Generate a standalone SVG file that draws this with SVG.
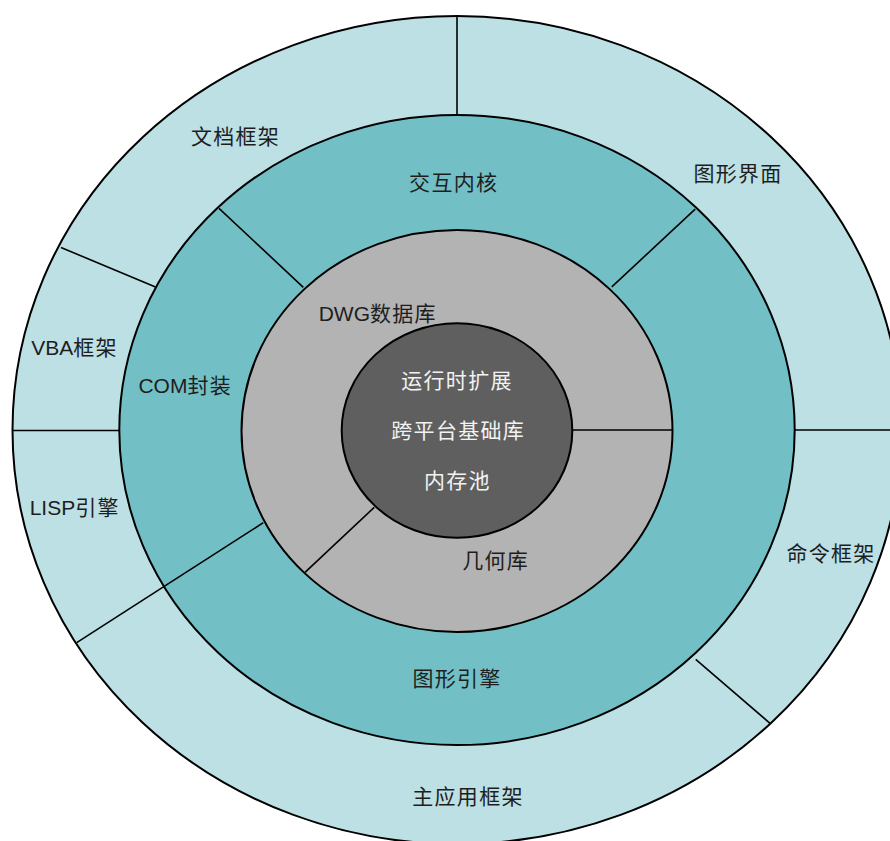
<svg xmlns="http://www.w3.org/2000/svg" width="890" height="841" viewBox="0 0 890 841">
  <style>
    .ring { stroke: #000; stroke-width: 2; }
    .div { stroke: #000; stroke-width: 1.6; fill: none; }
    .lbl { font-family: "Liberation Sans", "Noto Sans CJK SC", sans-serif; font-size: 21px; letter-spacing: 1.3px; text-anchor: middle; fill: #1e1e1e; }
    .lbl.w { fill: #f2f2f2; }
    .lat { letter-spacing: 0px; }
  </style>
  <rect width="890" height="841" fill="#ffffff"/>
  <g id="rings">
    <ellipse id="ring-outer" class="ring" cx="457" cy="430" rx="444.5" ry="414" fill="#bce0e3"/>
    <ellipse id="ring-teal" class="ring" cx="457" cy="430" rx="337.7" ry="315" fill="#72bfc6"/>
    <ellipse id="ring-gray" class="ring" cx="457" cy="431" rx="215.5" ry="201" fill="#b3b3b3"/>
    <ellipse id="ring-core" class="ring" cx="457" cy="430.5" rx="115.3" ry="107.3" fill="#5f5f5f"/>
  </g>
  <g id="connectors">
    <line class="div" x1="457" y1="16" x2="457" y2="115"/>
    <line class="div" x1="61" y1="247.5" x2="155.5" y2="287"/>
    <line class="div" x1="12.5" y1="430.5" x2="119.5" y2="430.5"/>
    <line class="div" x1="76.7" y1="642.7" x2="163.8" y2="586.7"/>
    <line class="div" x1="795" y1="430" x2="890" y2="430"/>
    <line class="div" x1="695.7" y1="659.3" x2="770" y2="723.3"/>
    <line class="div" x1="219" y1="208.3" x2="303.3" y2="287.3"/>
    <line class="div" x1="695.2" y1="209.1" x2="611.8" y2="286.9"/>
    <line class="div" x1="163.8" y1="586.7" x2="263.3" y2="522.7"/>
    <line class="div" x1="572.3" y1="430" x2="672.5" y2="430"/>
    <line class="div" x1="305" y1="572.3" x2="374.3" y2="507.3"/>
  </g>
  <g id="node-wendang"><text class="lbl" x="235.5" y="144">文档框架</text></g>
  <g id="node-tuxingjiemian"><text class="lbl" x="738" y="181">图形界面</text></g>
  <g id="node-vba"><text class="lbl" x="74.5" y="355"><tspan class="lat">VBA</tspan>框架</text></g>
  <g id="node-lisp"><text class="lbl" x="74.7" y="515"><tspan class="lat">LISP</tspan>引擎</text></g>
  <g id="node-mingling"><text class="lbl" x="831" y="560.5">命令框架</text></g>
  <g id="node-zhuyingyong"><text class="lbl" x="468" y="804">主应用框架</text></g>
  <g id="node-jiaohu"><text class="lbl" x="453.7" y="190">交互内核</text></g>
  <g id="node-com"><text class="lbl" x="185.2" y="393"><tspan class="lat">COM</tspan>封装</text></g>
  <g id="node-tuxingyinqing"><text class="lbl" x="457" y="685.5">图形引擎</text></g>
  <g id="node-dwg"><text class="lbl" x="377.8" y="321"><tspan class="lat">DWG</tspan>数据库</text></g>
  <g id="node-jihe"><text class="lbl" x="495.7" y="568">几何库</text></g>
  <g id="node-core">
    <text class="lbl w" x="457" y="387.5">运行时扩展</text>
    <text class="lbl w" x="458.2" y="438">跨平台基础库</text>
    <text class="lbl w" x="457.4" y="487.5">内存池</text>
  </g>
</svg>
